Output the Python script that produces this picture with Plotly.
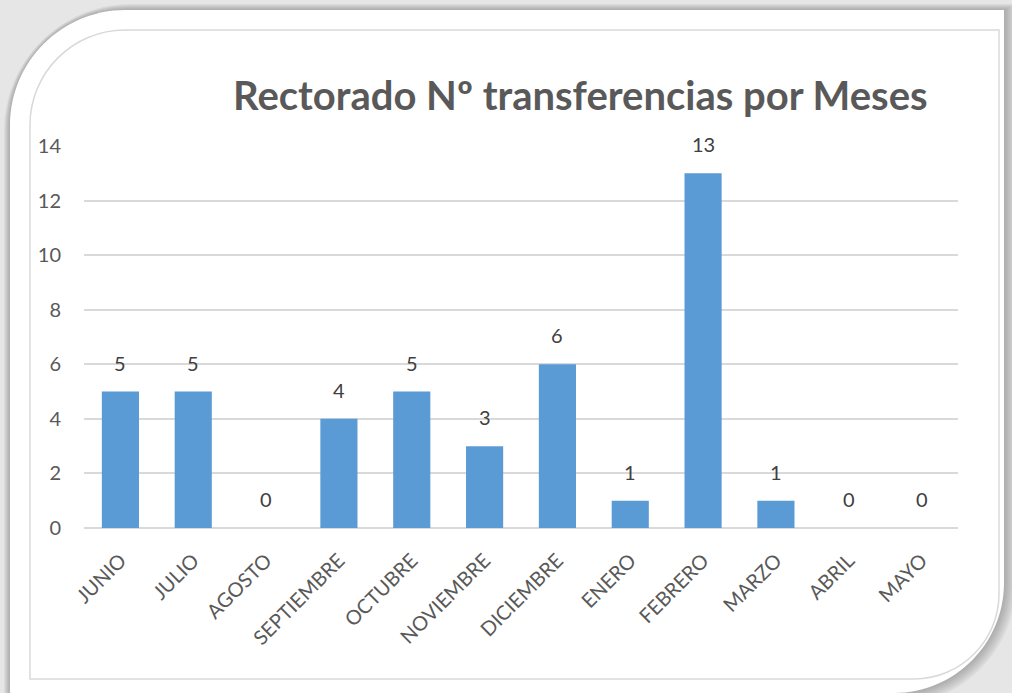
import plotly.graph_objects as go

months = ["JUNIO", "JULIO", "AGOSTO", "SEPTIEMBRE", "OCTUBRE", "NOVIEMBRE",
          "DICIEMBRE", "ENERO", "FEBRERO", "MARZO", "ABRIL", "MAYO"]
transfers = [5, 5, 0, 4, 5, 3, 6, 1, 13, 1, 0, 0]
y_ticks = [0, 2, 4, 6, 8, 10, 12, 14]

W, H = 1012, 693
# plot area in pixels
L, R, T, B = 84, 958, 146, 528


def px(x, y):
    return (x - L) / (R - L), (B - y) / (B - T)


def frame(x0, y0, x1, y1, r_tl, r_br):
    # rectangle with rounded top-left and bottom-right corners, pixel coords
    k = 0.45
    pts = [
        ("M", [(x0, y0 + r_tl)]),
        ("C", [(x0, y0 + r_tl * k), (x0 + r_tl * k, y0), (x0 + r_tl, y0)]),
        ("L", [(x1, y0)]),
        ("L", [(x1, y1 - r_br)]),
        ("C", [(x1, y1 - r_br * k), (x1 - r_br * k, y1), (x1 - r_br, y1)]),
        ("L", [(x0, y1)]),
    ]
    parts = []
    for cmd, pp in pts:
        parts.append(cmd + " " + " ".join(
            f"{px(x, y)[0]:.4f},{px(x, y)[1]:.4f}" for x, y in pp))
    return " ".join(parts) + " Z"


shapes = []
# soft shadow around the card
for i in range(6):
    d = 2 + i * 2
    shapes.append(dict(
        type="path", path=frame(10 - d / 2, 10 - d / 2, 1004 + d, 693 + d, 115 + d, 110 + d),
        xref="paper", yref="paper", fillcolor="rgba(90,90,90,0.07)",
        line=dict(width=0), layer="below"))
shapes.append(dict(
    type="path", path=frame(10, 10, 1004, 693, 115, 110),
    xref="paper", yref="paper", fillcolor="white", line=dict(width=0), layer="below"))
shapes.append(dict(
    type="path", path=frame(30, 30, 999, 679, 95, 85),
    xref="paper", yref="paper", fillcolor="rgba(0,0,0,0)",
    line=dict(color="#d9d9d9", width=1.5), layer="below"))

fig = go.Figure()
fig.add_trace(go.Bar(
    x=months, y=transfers,
    marker=dict(color="#5b9bd5", line=dict(width=0)),
    hoverinfo="x+y",
))

for m, v in zip(months, transfers):
    fig.add_annotation(
        x=m, y=v, text=str(v), showarrow=False,
        yanchor="bottom", yshift=15,
        font=dict(family="Lato", size=20, color="#404040"),
    )

fig.add_annotation(
    x=px(580, 0)[0], y=px(0, 95)[1], xref="paper", yref="paper",
    text="<b>Rectorado Nº transferencias por Meses</b>", showarrow=False,
    xanchor="center", yanchor="middle",
    font=dict(family="Lato", size=40, color="#595959"),
)

fig.update_layout(
    width=W, height=H,
    margin=dict(l=L, r=W - R, t=T, b=H - B, pad=0),
    paper_bgcolor="#e6e6e6",
    plot_bgcolor="rgba(0,0,0,0)",
    showlegend=False,
    bargap=0.49,
    shapes=shapes,
    xaxis=dict(
        tickangle=-45, showgrid=False, showline=False, zeroline=False,
        tickfont=dict(family="Lato", size=20, color="#595959"),
        ticks="outside", ticklen=12, tickcolor="rgba(0,0,0,0)",
    ),
    yaxis=dict(
        range=[0, 14], tickvals=y_ticks, showgrid=True,
        gridcolor="#d9d9d9", gridwidth=1.5, zeroline=True,
        zerolinecolor="#d9d9d9", zerolinewidth=1.5, showline=False,
        tickfont=dict(family="Lato", size=20, color="#595959"),
        ticks="outside", ticklen=18, tickcolor="rgba(0,0,0,0)",
    ),
)

fig.write_html("out.html", config={"displayModeBar": False},
               post_script="document.body.style.margin='0';")
